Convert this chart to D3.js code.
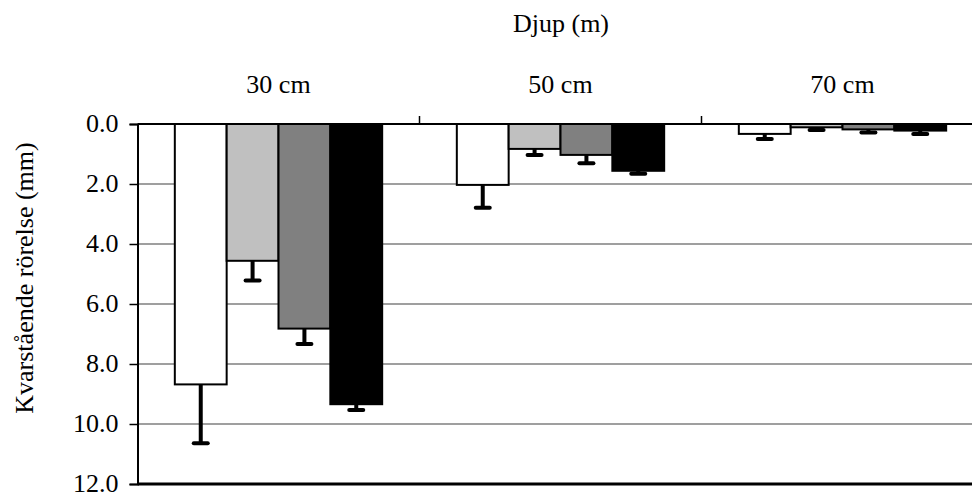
<!DOCTYPE html>
<html>
<head>
<meta charset="utf-8">
<script src="https://cdn.jsdelivr.net/npm/d3@7"></script>
<style>
  html, body { margin: 0; padding: 0; background: #fff; }
  svg { display: block; }
</style>
</head>
<body>
<script>
// Remaining movement (mm) per depth group, four series each
const categories = ["30 cm", "50 cm", "70 cm"];
const seriesNames = ["s1", "s2", "s3", "s4"];
const seriesColors = ["#ffffff", "#c0c0c0", "#808080", "#000000"];
const values = [
  [8.68, 4.56, 6.82, 9.34],
  [2.03, 0.83, 1.03, 1.56],
  [0.33, 0.11, 0.18, 0.22]
];
const errors = [
  [1.96, 0.66, 0.51, 0.19],
  [0.76, 0.20, 0.28, 0.10],
  [0.17, 0.09, 0.10, 0.11]
];
const yTicks = [0, 2, 4, 6, 8, 10, 12];

const W = 972, H = 497;
const plotLeft = 137.5, plotTop = 124, plotW = 846, plotH = 360;
const FONT_SIZE = "26px";
const FONT_FAMILY = "'Liberation Serif', 'DejaVu Serif', serif";

const svg = d3.select("body").append("svg").attr("width", W).attr("height", H)
  .style("font-family", FONT_FAMILY);

const x0 = d3.scaleBand().domain(categories).range([plotLeft, plotLeft + plotW]).padding(0);
// Gap of 72% of a bar width on each side of the group
const barW = x0.bandwidth() / (4 + 1.44);
const x1 = d3.scaleBand().domain(seriesNames).range([barW * 0.72, barW * 0.72 + barW * 4]).padding(0);

const y = d3.scaleLinear().domain([0, 12]).range([plotTop, plotTop + plotH]);

function styleText(sel) {
  return sel.style("font-family", FONT_FAMILY).style("font-size", FONT_SIZE).style("fill", "#000");
}

// Gridlines
svg.append("g").selectAll("line").data(yTicks.filter(t => t > 0 && t < 12)).join("line")
  .attr("x1", plotLeft).attr("x2", plotLeft + plotW)
  .attr("y1", d => y(d)).attr("y2", d => y(d))
  .attr("stroke", "#7f7f7f").attr("stroke-width", 1.5);

// Bars and error bars
const groups = svg.append("g").selectAll("g").data(categories).join("g")
  .attr("transform", d => `translate(${x0(d)},0)`);

groups.each(function(cat, ci) {
  const g = d3.select(this);
  seriesNames.forEach((s, si) => {
    const v = values[ci][si];
    g.append("rect")
      .attr("x", x1(s)).attr("y", y(0))
      .attr("width", x1.bandwidth()).attr("height", y(v) - y(0))
      .attr("fill", seriesColors[si])
      .attr("stroke", "#000").attr("stroke-width", 2);
  });
  seriesNames.forEach((s, si) => {
    const v = values[ci][si], e = errors[ci][si];
    const cx = x1(s) + x1.bandwidth() / 2;
    g.append("line")
      .attr("x1", cx).attr("x2", cx)
      .attr("y1", y(v)).attr("y2", y(v + e))
      .attr("stroke", "#000").attr("stroke-width", 4);
    g.append("line")
      .attr("x1", cx - 7).attr("x2", cx + 7)
      .attr("y1", y(v + e)).attr("y2", y(v + e))
      .attr("stroke", "#000").attr("stroke-width", 4).attr("stroke-linecap", "round");
  });
});

// Left axis with ticks and labels
const yAxis = d3.axisLeft(y).tickValues(yTicks).tickSize(8).tickPadding(11).tickFormat(d3.format(".1f"));
const ya = svg.append("g").attr("transform", `translate(${plotLeft},0)`).call(yAxis);
ya.attr("font-family", null).attr("font-size", null);
ya.select(".domain").attr("stroke", "#000").attr("stroke-width", 2);
ya.selectAll(".tick line").attr("stroke", "#000").attr("stroke-width", 1.5);
styleText(ya.selectAll(".tick text")).attr("dy", "0.3em");

// Top (category) axis line and dividers
svg.append("line").attr("x1", plotLeft).attr("x2", plotLeft + plotW)
  .attr("y1", plotTop).attr("y2", plotTop)
  .attr("stroke", "#000").attr("stroke-width", 2);
svg.append("g").selectAll("line").data(categories.slice(1)).join("line")
  .attr("x1", d => x0(d)).attr("x2", d => x0(d))
  .attr("y1", plotTop - 8).attr("y2", plotTop)
  .attr("stroke", "#000").attr("stroke-width", 1.5);
styleText(svg.append("g").selectAll("text").data(categories).join("text")
  .attr("x", d => x0(d) + x0.bandwidth() / 2).attr("y", 93)
  .attr("text-anchor", "middle"))
  .text(d => d);

// Bottom boundary line
svg.append("line").attr("x1", plotLeft).attr("x2", plotLeft + plotW)
  .attr("y1", y(12)).attr("y2", y(12))
  .attr("stroke", "#000").attr("stroke-width", 3);

// Titles
styleText(svg.append("text").attr("x", 561).attr("y", 32).attr("text-anchor", "middle"))
  .text("Djup (m)");
styleText(svg.append("text").attr("transform", `translate(33,278) rotate(-90)`)
  .attr("text-anchor", "middle"))
  .text("Kvarstående rörelse (mm)");
</script>
</body>
</html>
